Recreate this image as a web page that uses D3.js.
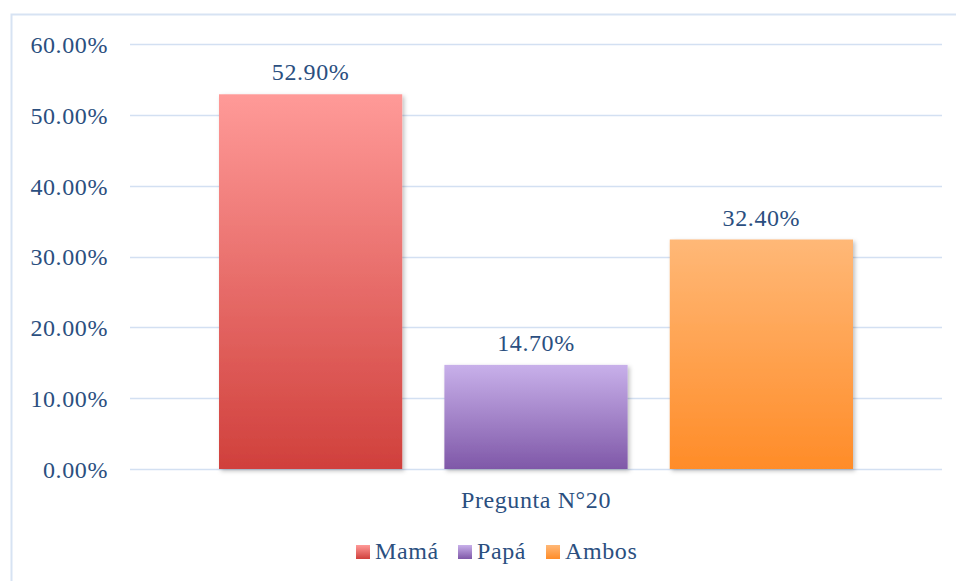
<!DOCTYPE html>
<html><head><meta charset="utf-8">
<script src="https://cdn.jsdelivr.net/npm/d3@7"></script>
<style>body{margin:0;background:#fff}svg{display:block}</style>
</head><body>
<svg id="c" width="956" height="581"></svg>
<script>
const category = ["Pregunta N°20"];
const series = ["Mamá","Papá","Ambos"];
const values = [52.9, 14.7, 32.4];
const yTicks = [0,10,20,30,40,50,60];
const topColors = ["#ff9a98","#c8b0ea","#ffb877"];
const bottomColors = ["#d0403c","#7f58a8","#ff8c28"];

const svg = d3.select("#c");
const W=956,H=581;
const font = "'Liberation Serif', serif";
const fs = 24, ls = 0.6;
const textColor = "#2b4f7f";
const defs = svg.append("defs");
series.forEach((s,i)=>{
  const g = defs.append("linearGradient").attr("id","g"+i).attr("x1",0).attr("y1",0).attr("x2",0).attr("y2",1);
  g.append("stop").attr("offset","0%").attr("stop-color",topColors[i]);
  g.append("stop").attr("offset","100%").attr("stop-color",bottomColors[i]);
});
const f = defs.append("filter").attr("id","sh").attr("x","-10%").attr("y","-10%").attr("width","130%").attr("height","130%");
f.append("feDropShadow").attr("dx",2).attr("dy",2).attr("stdDeviation",2).attr("flood-color","#000").attr("flood-opacity",0.25);

// frame
svg.append("rect").attr("x",11.5).attr("y",14.5).attr("width",W).attr("height",H).attr("fill","none").attr("stroke","#d7e3f3").attr("stroke-width",2);

const y = d3.scaleLinear().domain([0,60]).range([469,44]);
const x0 = d3.scaleBand().domain(category).range([130,942]);
const x1 = d3.scaleBand().domain(series).range([x0(category[0])+89, x0(category[0])+x0.bandwidth()-89]).paddingInner(0.187);

const grid = svg.append("g");
yTicks.forEach(t=>{
  grid.append("line").attr("x1",130).attr("x2",942).attr("y1",Math.round(y(t))+0.5).attr("y2",Math.round(y(t))+0.5).attr("stroke","#d3e0f2").attr("stroke-width",1.6);
});
const yAxis = d3.axisLeft(y).tickValues(yTicks).tickFormat(d=>d.toFixed(2)+"%").tickSize(0).tickPadding(0);
const ga = svg.append("g").attr("transform","translate(108,0)").call(yAxis);
ga.select(".domain").remove();
ga.selectAll("text").attr("font-family",font).attr("font-size",fs).attr("letter-spacing",ls).attr("fill",textColor).attr("dy","0.35em");

svg.selectAll("rect.bar").data(values).enter().append("rect").attr("class","bar")
  .attr("x",(d,i)=>x1(series[i])).attr("width",x1.bandwidth())
  .attr("y",d=>y(d)).attr("height",d=>y(0)-y(d))
  .attr("fill",(d,i)=>"url(#g"+i+")").attr("filter","url(#sh)");

svg.selectAll("text.lbl").data(values).enter().append("text").attr("class","lbl")
  .attr("x",(d,i)=>x1(series[i])+x1.bandwidth()/2).attr("y",d=>y(d)-14)
  .attr("text-anchor","middle").attr("font-family",font).attr("font-size",fs).attr("letter-spacing",ls).attr("fill",textColor)
  .text(d=>d.toFixed(2)+"%");

svg.append("text").attr("x",x0(category[0])+x0.bandwidth()/2).attr("y",508).attr("text-anchor","middle")
  .attr("font-family",font).attr("font-size",fs).attr("letter-spacing",ls).attr("fill",textColor).text(category[0]);

const legX = [356,458,546];
series.forEach((s,i)=>{
  svg.append("rect").attr("x",legX[i]).attr("y",545).attr("width",14).attr("height",14).attr("fill","url(#g"+i+")");
  svg.append("text").attr("x",legX[i]+19).attr("y",559).attr("font-family",font).attr("font-size",fs).attr("letter-spacing",ls).attr("fill",textColor).text(s);
});
</script>
</body></html>
